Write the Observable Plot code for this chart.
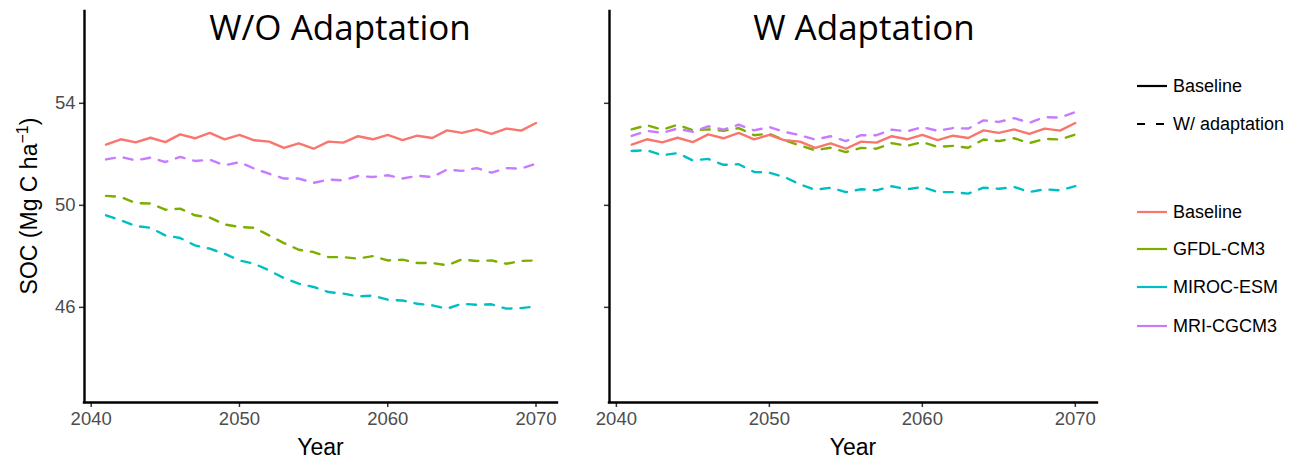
<!DOCTYPE html>
<html><head><meta charset="utf-8">
<script src="https://cdn.jsdelivr.net/npm/d3@7"></script>
<script src="https://cdn.jsdelivr.net/npm/@observablehq/plot@0.6"></script>
<style>
body{margin:0;background:#fff;}
#wrap{position:relative;width:1307px;height:462px;overflow:hidden;background:#fff;}
#wrap > svg, #wrap > figure {position:absolute;top:0;margin:0;}
</style></head><body><div id="wrap"></div>
<script>
// ---- data ----
const years = [2041,2042,2043,2044,2045,2046,2047,2048,2049,2050,2051,2052,2053,2054,2055,
               2056,2057,2058,2059,2060,2061,2062,2063,2064,2065,2066,2067,2068,2069,2070];
const models = ["Baseline","GFDL-CM3","MIROC-ESM","MRI-CGCM3"];
const colors = ["#F8766D","#7CAE00","#00BFC4","#C77CFF"];
const scenarios = ["Baseline","W/ adaptation"];
const xTicks = [2040,2050,2060,2070];
const yTicks = [46,50,54];
const panelTitles = ["W/O Adaptation","W Adaptation"];

const baseline = [52.38,52.59,52.47,52.65,52.48,52.78,52.63,52.84,52.59,52.76,52.55,52.50,52.25,52.43,52.22,
                  52.50,52.46,52.71,52.59,52.76,52.56,52.73,52.64,52.94,52.84,52.98,52.80,53.01,52.93,53.23];
// Without adaptation
const gfdlWO  = [50.37,50.33,50.09,50.07,49.83,49.87,49.61,49.52,49.25,49.15,49.12,48.82,48.52,48.26,48.17,
                 47.97,47.97,47.91,48.01,47.84,47.87,47.74,47.74,47.65,47.88,47.82,47.84,47.71,47.82,47.84];
const mirocWO = [49.61,49.41,49.19,49.12,48.82,48.72,48.43,48.30,48.10,47.84,47.71,47.45,47.15,46.93,46.80,
                 46.60,46.54,46.43,46.46,46.30,46.27,46.14,46.08,45.95,46.14,46.10,46.12,45.95,45.97,46.04];
const mriWO   = [51.80,51.90,51.76,51.87,51.70,51.90,51.74,51.79,51.57,51.69,51.44,51.24,51.05,51.05,50.88,
                 51.01,50.98,51.15,51.11,51.18,51.05,51.16,51.11,51.40,51.35,51.46,51.28,51.46,51.44,51.63];
// With adaptation
const gfdlW   = [52.98,53.14,52.97,53.16,52.94,52.98,52.92,53.03,52.75,52.81,52.55,52.35,52.16,52.26,52.09,
                 52.25,52.22,52.44,52.33,52.48,52.29,52.33,52.26,52.58,52.52,52.63,52.44,52.61,52.58,52.78];
const mirocW  = [52.13,52.16,51.96,52.05,51.76,51.82,51.59,51.61,51.31,51.28,51.11,50.82,50.61,50.69,50.52,
                 50.63,50.59,50.75,50.63,50.72,50.52,50.52,50.46,50.69,50.65,50.72,50.52,50.63,50.59,50.75];
const mriW    = [52.72,52.92,52.84,53.01,52.88,53.10,52.97,53.16,52.94,53.07,52.88,52.75,52.58,52.71,52.52,
                 52.75,52.75,52.97,52.90,53.07,52.92,53.03,53.01,53.33,53.27,53.42,53.24,53.46,53.44,53.66];

const xDomain = [2039.55, 2071.45];
const yDomain = [42.27, 57.6];

function rows(model, values){ return years.map((yr,i)=>({year:yr, soc:values[i], model})); }

const wrap = document.getElementById("wrap");
const tickFont = "'Liberation Sans', Arial, sans-serif";

function panel({left, width, marginLeft, showY, dashedSets}){
  const base = rows("Baseline", baseline);
  const dashed = dashedSets.flatMap(([m,v])=>rows(m,v));
  const p = Plot.plot({
    width, height: 462,
    marginLeft, marginRight: 13, marginTop: 11, marginBottom: 60,
    x: {domain: xDomain},
    y: {domain: yDomain},
    color: {domain: models, range: colors},
    style: {fontFamily: tickFont, fontSize: "18.5px", color: "#4d4d4d", background: "transparent", overflow: "visible"},
    marks: [
      Plot.axisX({ticks: xTicks, tickSize: 5, tickPadding: 4, tickFormat: d => String(d), label: null,
                  stroke: "#333", strokeWidth: 1.5, fontSize: 18.5, fill: "#4d4d4d"}),
      Plot.axisY({ticks: yTicks, tickSize: 5, tickPadding: 4, tickFormat: showY ? (d => String(d)) : (() => ""), label: null,
                  stroke: "#333", strokeWidth: 1.5, fontSize: 18.5, fill: "#4d4d4d"}),
      Plot.line(dashed, {x: "year", y: "soc", z: "model", stroke: "model", strokeWidth: 2.4, strokeDasharray: "9,9"}),
      Plot.line(base, {x: "year", y: "soc", stroke: "model", strokeWidth: 2.4}),
      Plot.ruleX([xDomain[0]], {stroke: "#000", strokeWidth: 2.4, strokeLinecap: "square"}),
      Plot.ruleY([yDomain[0]], {stroke: "#000", strokeWidth: 2.4, strokeLinecap: "square"})
    ]
  });
  p.style.position = "absolute";
  p.style.left = left + "px";
  p.style.top = "0px";
  wrap.appendChild(p);
}

panel({left: 0, width: 570, marginLeft: 84, showY: true,
       dashedSets: [["GFDL-CM3", gfdlWO], ["MIROC-ESM", mirocWO], ["MRI-CGCM3", mriWO]]});
panel({left: 540, width: 570, marginLeft: 69, showY: false,
       dashedSets: [["GFDL-CM3", gfdlW], ["MIROC-ESM", mirocW], ["MRI-CGCM3", mriW]]});

// ---- overlay: titles, axis titles, legend ----
const svg = d3.select(wrap).append("svg")
  .attr("width", 1307).attr("height", 462)
  .style("position","absolute").style("left","0px").style("top","0px")
  .style("pointer-events","none");

svg.selectAll("text.title").data([[340, panelTitles[0]], [864, panelTitles[1]]]).join("text")
  .attr("x", d => d[0]).attr("y", 40).attr("text-anchor","middle")
  .attr("font-family","'Open Sans', sans-serif").attr("font-size", 35).attr("fill","#000")
  .text(d => d[1]);

svg.selectAll("text.xlab").data([320.5, 853]).join("text")
  .attr("x", d => d).attr("y", 455).attr("text-anchor","middle")
  .attr("font-family",tickFont).attr("font-size", 23).attr("fill","#000")
  .text("Year");

const yl = svg.append("text")
  .attr("transform","translate(37,206) rotate(-90)").attr("text-anchor","middle")
  .attr("font-family",tickFont).attr("font-size", 23).attr("fill","#000");
yl.append("tspan").text("SOC (Mg C ha");
yl.append("tspan").attr("dy", -9).attr("font-size", 16).text("\u22121");
yl.append("tspan").attr("dy", 9).text(")");

// legend
const lineLeg = [[scenarios[0], null, 86], [scenarios[1], "9,9", 124]];
lineLeg.forEach(([label, dash, y]) => {
  const l = svg.append("line").attr("x1",1137).attr("x2",1167).attr("y1",y).attr("y2",y)
    .attr("stroke","#000").attr("stroke-width",2.2);
  if (dash) l.attr("stroke-dasharray","8,11");
  svg.append("text").attr("x",1173).attr("y",y).attr("dy","0.35em")
    .attr("font-family",tickFont).attr("font-size",18).attr("fill","#000").text(label);
});
const colLegY = [212, 249, 287, 326];
models.forEach((m,i) => {
  svg.append("line").attr("x1",1137).attr("x2",1167).attr("y1",colLegY[i]).attr("y2",colLegY[i])
    .attr("stroke",colors[i]).attr("stroke-width",2.2);
  svg.append("text").attr("x",1173).attr("y",colLegY[i]).attr("dy","0.35em")
    .attr("font-family",tickFont).attr("font-size",18).attr("fill","#000").text(m);
});
</script>
</body></html>
